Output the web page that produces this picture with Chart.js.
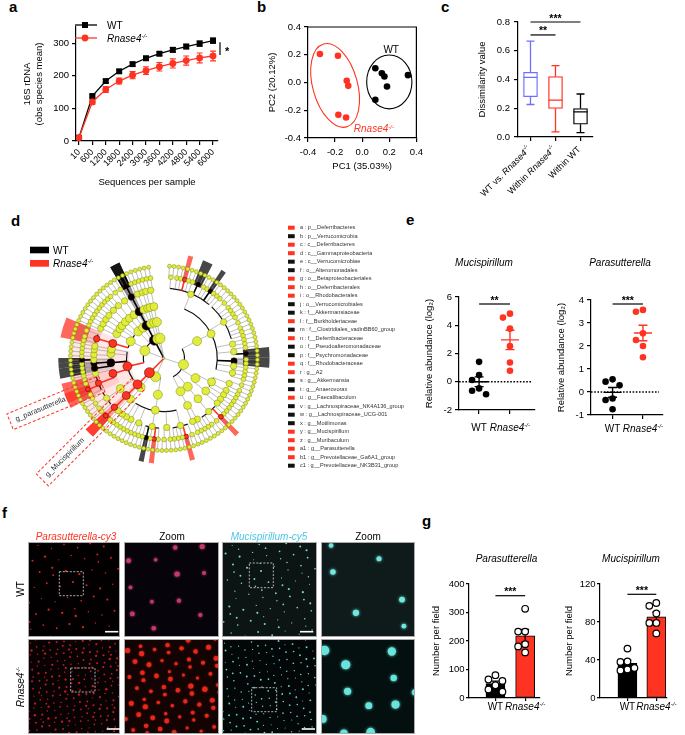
<!DOCTYPE html>
<html>
<head>
<meta charset="utf-8">
<title>Rnase4 microbiota figure</title>
<script src="https://cdn.jsdelivr.net/npm/chart.js@4.4.1/dist/chart.umd.min.js"></script>
<style>
  html, body { margin: 0; padding: 0; background: #fff; }
  #fig { position: relative; width: 685px; height: 735px; overflow: hidden; }
  #fig canvas { position: absolute; }
  .panel { position: absolute; font: bold 15px 'Liberation Sans', Arial, sans-serif; line-height: 15px; }
</style>
</head>
<body>
<div id="fig">
  <div class="panel" style="left:9px;top:-1px">a</div>
  <div class="panel" style="left:257px;top:-1px">b</div>
  <div class="panel" style="left:441px;top:-1px">c</div>
  <div class="panel" style="left:11px;top:213px">d</div>
  <div class="panel" style="left:406px;top:212px">e</div>
  <div class="panel" style="left:2px;top:505px">f</div>
  <div class="panel" style="left:422px;top:513px">g</div>
</div>
<script>
const FONT = "'Liberation Sans', Arial, Helvetica, sans-serif";
const RED = '#ff3322';
const BLUE = '#7070ff';

// ---------- a: rarefaction ----------
const depthLabels = ['10', '600', '1200', '1800', '2400', '3000', '3600', '4200', '4800', '5400', '6000'];
const wtObserved = [10, 138, 184, 214, 236, 254, 268, 280, 290, 299, 308];
const wtObservedSem = [2, 4, 5, 5, 6, 6, 6, 7, 7, 8, 8];
const koObserved = [10, 120, 158, 184, 202, 216, 228, 238, 247, 255, 261];
const koObservedSem = [2, 7, 9, 9, 11, 12, 13, 14, 14, 15, 15];
const observedAxis = [0, 350, 100];   // min, max, step

// ---------- b: PCA ----------
const wtPC1 = [0.097, 0.145, 0.164, 0.183, 0.338, 0.097];
const wtPC2 = [0.103, 0.067, 0.043, -0.029, 0.053, -0.124];
const koPC1 = [-0.312, -0.179, -0.114, -0.103, -0.176, -0.119];
const koPC2 = [0.205, 0.193, 0.012, -0.024, -0.233, -0.252];
const wtEllipse = [0.2, 0.004, 0.167, 0.194, 0];      // centre x, centre y, half x, half y, tilt deg
const koEllipse = [-0.2, -0.021, 0.165, 0.31, -15.5];
const pcaLabelText = ['WT', 'Rnase4-/-'];
const pcaLabelX = [0.214, -0.062];
const pcaLabelY = [0.21, -0.359];
const pcaAxis = [-0.4, 0.4, 0.2];

// ---------- c: dissimilarity ----------
const dissimGroups = ['WT vs. Rnase4-/-', 'Within Rnase4-/-', 'Within WT'];
const dissimMin = [0.226, 0.035, 0.03];
const dissimQ1 = [0.28, 0.198, 0.089];
const dissimMedian = [0.415, 0.257, 0.175];
const dissimQ3 = [0.45, 0.42, 0.198];
const dissimMax = [0.667, 0.497, 0.299];
const dissimSigText = ['**', '***'];
const dissimSigFrom = [0, 0];
const dissimSigTo = [1, 2];
const dissimSigLevel = [0.71, 0.8];
const dissimAxis = [0, 0.8, 0.2];

// ---------- d: LEfSe cladogram ----------
// phylum > class > order > family > [species per genus]
const cladeTree = [
  [ // Firmicutes
    [[[2, 1, 1, 1, 1, 1, 2, 1, 1, 1, 1, 1], [1, 2, 1, 1, 1, 1, 2, 1, 1, 1], [1, 1], [1, 2], [1, 1], [1], [1, 1, 1]]],
    [[[2, 1], [1, 1], [1]], [[1, 1], [1]]],
    [[[1, 1, 2, 1, 1]]],
    [[[1, 1], [1]]]
  ],
  [ // Bacteroidetes
    [[[2, 1, 1, 1, 1], [1, 2], [1, 1, 1, 1, 1], [1, 1, 1], [1, 1], [1]]],
    [[[1, 1], [1]]]
  ],
  [[[[2]]]], // Deferribacteres
  [ // Proteobacteria
    [[[1, 1, 2, 1]], [[1, 2, 1, 1], [1]], [[1, 1], [1], [1]], [[1, 1], [1]], [[1]]],
    [[[1, 1, 2]], [[1, 1], [1]], [[1, 1]], [[1]]],
    [[[1, 1, 1]], [[1]]],
    [[[2, 1]]]
  ],
  [[[[2]]]], // Verrucomicrobia
  [[[[1, 1]], [[1]]], [[[1]]]], // Actinobacteria
  [[[[1, 1]]]] // Tenericutes
];
const biomarkerIds = ['a', 'b', 'c', 'd', 'e', 'f', 'g', 'h', 'i', 'j', 'k', 'l', 'm', 'n', 'o', 'p', 'q', 'r', 's', 't', 'u', 'v', 'w', 'x', 'y', 'z', 'a1', 'b1', 'c1'];
const biomarkerTaxa = ['p__Deferribacteres', 'p__Verrucomicrobia', 'c__Deferribacteres', 'c__Gammaproteobacteria', 'c__Verrucomicrobiae',
  'o__Alteromonadales', 'o__Betaproteobacteriales', 'o__Deferribacterales', 'o__Rhodobacterales', 'o__Verrucomicrobiales',
  'f__Akkermansiaceae', 'f__Burkholderiaceae', 'f__Clostridiales_vadinBB60_group', 'f__Deferribacteraceae', 'f__Pseudoalteromonadaceae',
  'f__Psychromonadaceae', 'f__Rhodobacteraceae', 'g__A2', 'g__Akkermansia', 'g__Anaerovorax', 'g__Faecalibaculum',
  'g__Lachnospiraceae_NK4A136_group', 'g__Lachnospiraceae_UCG-001', 'g__Motilimonas', 'g__Mucispirillum', 'g__Muribaculum',
  'g__Parasutterella', 'g__Prevotellaceae_Ga6A1_group', 'g__Prevotellaceae_NK3B31_group'];
const biomarkerGroup = ['KO', 'WT', 'KO', 'KO', 'WT', 'WT', 'KO', 'KO', 'KO', 'WT', 'WT', 'KO', 'WT', 'KO', 'WT',
  'WT', 'KO', 'KO', 'WT', 'WT', 'KO', 'WT', 'WT', 'WT', 'KO', 'KO', 'KO', 'KO', 'WT'];
const biomarkerClade = ['2', '4', '2,0', '3,0', '4,0', '3,0,2', '3,0,1', '2,0,0', '3,1,0', '4,0,0', '4,0,0,0', '3,0,1,0', '0,0,0,4',
  '2,0,0,0', '3,0,2,0', '3,0,2,1', '3,1,0,0', '0,0,0,0,3', '4,0,0,0,0', '0,0,0,3,1', '0,2,0,0,1', '0,0,0,0,6', '0,0,0,0,9',
  '3,0,2,2,0', '2,0,0,0,0', '1,0,0,0,1', '3,0,1,0,1', '1,0,0,2,1', '1,0,0,2,3'];
const cladeCallouts = [['3,0,1,0,1', 'g_parasutterella', 0.72, 1.78], ['2,0,0,0,0', 'g_Mucispirillum', 0.39, 1.84]];

// ---------- e: relative abundance (log2) ----------
const groupNames = ['WT', 'Rnase4-/-'];
const mucAbundWT = [1.41, 0.47, 0.12, -0.47, -0.64, -0.89];
const mucAbundKO = [4.82, 4.54, 3.76, 2.52, 1.36, 0.78];
const parAbundWT = [0.45, 0.55, 0.29, -0.28, -0.35, -0.75];
const parAbundKO = [3.49, 3.57, 2.55, 2.26, 2.0, 1.51];

// ---------- g: FISH counts ----------
const parCountWT = [60, 65, 80, 45, 22, 30];
const parCountKO = [313, 233, 233, 189, 181, 160];
const mucCountWT = [52, 38, 38.5, 30, 31.5, 29];
const mucCountKO = [97, 100, 89, 79, 79, 68];

Chart.defaults.font.family = FONT;
Chart.defaults.font.size = 9.5;
Chart.defaults.color = '#000';
Chart.defaults.animation = false;
Chart.defaults.responsive = false;
Chart.defaults.events = [];
Chart.defaults.plugins.legend.display = false;
Chart.defaults.plugins.tooltip.enabled = false;

// ---------- helpers ----------
function richParts(str) {
  const parts = [];
  str.split(/(Rnase4-\/-)/).forEach(s => {
    if (s === 'Rnase4-/-') parts.push(['Rnase4', 'i'], ['-/-', 'is']);
    else if (s) parts.push([s, '']);
  });
  return parts;
}

function drawRich(ctx, parts, x, y, o) {
  o = o || {};
  if (typeof parts === 'string') parts = richParts(parts);
  const size = o.size || 9.5;
  const fontOf = st => (st.indexOf('i') >= 0 || o.italic ? 'italic ' : '') + (o.bold ? 'bold ' : '') +
    (st.indexOf('s') >= 0 ? size * 0.62 : size) + 'px ' + FONT;
  ctx.save();
  ctx.translate(x, y);
  if (o.rot) ctx.rotate(o.rot);
  ctx.fillStyle = o.color || '#000';
  ctx.textAlign = 'left';
  ctx.textBaseline = o.baseline || 'alphabetic';
  let w = 0;
  parts.forEach(p => { ctx.font = fontOf(p[1]); w += ctx.measureText(p[0]).width; });
  let cx = o.align === 'center' ? -w / 2 : o.align === 'right' ? -w : 0;
  parts.forEach(p => {
    ctx.font = fontOf(p[1]);
    ctx.fillText(p[0], cx, p[1].indexOf('s') >= 0 ? -size * 0.38 : 0);
    cx += ctx.measureText(p[0]).width;
  });
  ctx.restore();
}

function addCanvas(left, top, w, h) {
  const c = document.createElement('canvas');
  c.width = w; c.height = h;
  c.style.left = left + 'px'; c.style.top = top + 'px';
  c.style.width = w + 'px'; c.style.height = h + 'px';
  document.getElementById('fig').appendChild(c);
  return c;
}

// canvas placement so that the plot area lands on box
function frame(box, yw, xh, pt, pr) {
  const left = Math.round(box.x0 - yw), top = Math.round(box.y0 - pt);
  const right = Math.round(box.x1), bottom = Math.round(box.y1);
  return { left, top, w: right + pr - left, h: bottom + Math.round(xh) - top,
    yw: Math.round(box.x0) - left, xh: Math.round(xh), pt: Math.round(box.y0) - top, pr };
}

function makeChart(fr, cfg) {
  const c = addCanvas(fr.left, fr.top, fr.w, fr.h);
  cfg.options = cfg.options || {};
  cfg.options.layout = { padding: { top: fr.pt, right: fr.pr, bottom: 0, left: 0 } };
  return new Chart(c, cfg);
}

function axis(kind, fr, o) {
  const s = {
    type: o.type || 'linear', position: kind === 'x' ? 'bottom' : 'left',
    min: o.min, max: o.max, offset: !!o.offset,
    afterFit: kind === 'x' ? (sc => { sc.height = fr.xh; }) : (sc => { sc.width = fr.yw; }),
    border: { display: true, color: '#000', width: 1.2 },
    grid: { display: true, offset: false, drawOnChartArea: false, drawTicks: true, tickLength: o.tickLength || 4, color: '#000', lineWidth: 1.2 },
    ticks: { display: o.labels !== false, stepSize: o.step, includeBounds: false, autoSkip: false, padding: o.pad == null ? 3 : o.pad,
      color: '#000', font: { size: o.size || 9.5 }, minRotation: o.rot || 0, maxRotation: o.rot || 0 },
    title: { display: !!o.title, text: o.title, color: '#000', font: { size: 9.5 }, padding: { top: 4, bottom: 4 } }
  };
  if (o.fmt) s.ticks.callback = o.fmt;
  return s;
}

const fmt1 = v => (Math.abs(v) < 1e-9 ? 0 : v).toFixed(1);
const mean = a => a.reduce((s, v) => s + v, 0) / a.length;
const sem = a => { const m = mean(a); return Math.sqrt(a.reduce((s, v) => s + (v - m) * (v - m), 0) / (a.length - 1) / a.length); };

function stars(ctx, text, x1, x2, yy) {
  ctx.save();
  ctx.strokeStyle = '#000'; ctx.lineWidth = 1.2;
  ctx.beginPath(); ctx.moveTo(x1, yy); ctx.lineTo(x2, yy); ctx.stroke();
  ctx.restore();
  drawRich(ctx, [[text, '']], (x1 + x2) / 2, yy - 0.5, { size: 10.5, bold: true, align: 'center' });
}

// ---------- a ----------
const frA = frame({ x0: 76, x1: 218, y0: 27, y1: 141 }, 58.5, 51, 20, 20);
const rarefactionMarks = {
  id: 'rarefactionMarks',
  beforeDatasetsDraw(chart) {
    const { ctx, scales: { x, y } } = chart;
    chart.data.datasets.forEach(ds => {
      ctx.save();
      ctx.strokeStyle = ds.borderColor; ctx.lineWidth = 1.1;
      ctx.beginPath();
      ds.data.forEach((p, i) => {
        const px = x.getPixelForValue(p.x);
        const hi = y.getPixelForValue(p.y + ds.sem[i]), lo = y.getPixelForValue(p.y - ds.sem[i]);
        ctx.moveTo(px, hi); ctx.lineTo(px, lo);
        ctx.moveTo(px - 3, hi); ctx.lineTo(px + 3, hi);
        ctx.moveTo(px - 3, lo); ctx.lineTo(px + 3, lo);
      });
      ctx.stroke();
      ctx.restore();
    });
  },
  afterDraw(chart) {
    const { ctx, chartArea: ca, scales: { y } } = chart;
    [['WT', '#000', 'rect', ca.top - 2], ['Rnase4-/-', RED, 'circle', ca.top + 11]].forEach(([label, col, shape, yy]) => {
      ctx.save();
      ctx.strokeStyle = col; ctx.fillStyle = col; ctx.lineWidth = 1.3;
      ctx.beginPath(); ctx.moveTo(ca.left - 1, yy); ctx.lineTo(ca.left + 21, yy); ctx.stroke();
      if (shape === 'rect') ctx.fillRect(ca.left + 6, yy - 3, 6, 6);
      else { ctx.beginPath(); ctx.arc(ca.left + 9, yy, 3.4, 0, 2 * Math.PI); ctx.fill(); }
      ctx.restore();
      drawRich(ctx, label, ca.left + 31, yy + 3.5, { size: 10 });
    });
    const top = y.getPixelForValue(wtObserved[wtObserved.length - 1] - 5);
    const bot = y.getPixelForValue(koObserved[koObserved.length - 1] + 3);
    ctx.save();
    ctx.strokeStyle = '#000'; ctx.lineWidth = 1.2;
    ctx.beginPath(); ctx.moveTo(ca.right + 2, top); ctx.lineTo(ca.right + 2, bot); ctx.stroke();
    ctx.restore();
    drawRich(ctx, [['*', '']], ca.right + 7, (top + bot) / 2 + 6.5, { size: 11, bold: true });
  }
};
makeChart(frA, {
  type: 'line',
  data: { datasets: [
    { data: koObserved.map((v, i) => ({ x: i, y: v })), sem: koObservedSem, borderColor: RED, backgroundColor: RED,
      pointStyle: 'circle', pointRadius: 3.4, pointBorderWidth: 0, borderWidth: 1.3 },
    { data: wtObserved.map((v, i) => ({ x: i, y: v })), sem: wtObservedSem, borderColor: '#000', backgroundColor: '#000',
      pointStyle: 'rect', pointRadius: 4.2, pointBorderWidth: 0, borderWidth: 1.3 }
  ] },
  options: { scales: {
    x: axis('x', frA, { min: -0.22, max: 10.37, step: 1, rot: 45, size: 9, pad: 2, title: 'Sequences per sample',
      fmt: v => depthLabels[Math.round(v)] || '' }),
    y: axis('y', frA, { min: observedAxis[0], max: observedAxis[1], step: observedAxis[2], title: ['16S rDNA', '(obs species mean)'] })
  } },
  plugins: [rarefactionMarks]
});

// ---------- b ----------
const frB = frame({ x0: 307.7, x1: 420, y0: 26.7, y1: 138.3 }, 44.4, 38, 10, 8);
const pcaMarks = {
  id: 'pcaMarks',
  beforeDatasetsDraw(chart) {
    const { ctx, scales: { x, y } } = chart;
    [[koEllipse, RED], [wtEllipse, '#000']].forEach(([e, col]) => {
      const cx = x.getPixelForValue(e[0]), cy = y.getPixelForValue(e[1]);
      const rx = x.getPixelForValue(e[0] + e[2]) - cx, ry = cy - y.getPixelForValue(e[1] + e[3]);
      ctx.save();
      ctx.strokeStyle = col; ctx.lineWidth = 1.1;
      ctx.beginPath(); ctx.ellipse(cx, cy, rx, ry, e[4] * Math.PI / 180, 0, 2 * Math.PI); ctx.stroke();
      ctx.restore();
    });
  },
  afterDraw(chart) {
    const { ctx, chartArea: ca, scales: { x, y } } = chart;
    ctx.save();
    ctx.strokeStyle = '#000'; ctx.lineWidth = 1.2;
    ctx.beginPath(); ctx.moveTo(ca.left, ca.top); ctx.lineTo(ca.right, ca.top); ctx.lineTo(ca.right, ca.bottom); ctx.stroke();
    ctx.restore();
    pcaLabelText.forEach((t, i) => {
      drawRich(ctx, t, x.getPixelForValue(pcaLabelX[i]), y.getPixelForValue(pcaLabelY[i]),
        { size: 10, align: i === 0 ? 'center' : 'left', color: i === 0 ? '#000' : RED });
    });
  }
};
makeChart(frB, {
  type: 'scatter',
  data: { datasets: [
    { data: koPC1.map((v, i) => ({ x: v, y: koPC2[i] })), backgroundColor: RED, pointRadius: 3.3, pointBorderWidth: 0 },
    { data: wtPC1.map((v, i) => ({ x: v, y: wtPC2[i] })), backgroundColor: '#000', pointRadius: 3.3, pointBorderWidth: 0 }
  ] },
  options: { scales: {
    x: axis('x', frB, { min: pcaAxis[0], max: pcaAxis[1], step: pcaAxis[2], fmt: fmt1, pad: 5, title: 'PC1 (35.03%)' }),
    y: axis('y', frB, { min: pcaAxis[0], max: pcaAxis[1], step: pcaAxis[2], fmt: fmt1, title: 'PC2 (20.12%)' })
  } },
  plugins: [pcaMarks]
});

// ---------- c ----------
const frC = frame({ x0: 518, x1: 593, y0: 22.3, y1: 136.7 }, 44.7, 73, 16, 10);
const boxColours = [BLUE, RED, '#000'];
const boxMarks = {
  id: 'boxMarks',
  afterDatasetsDraw(chart) {
    const { ctx, scales: { x, y } } = chart;
    dissimGroups.forEach((g, i) => {
      const px = x.getPixelForValue(i);
      const yMax = y.getPixelForValue(dissimMax[i]), yMin = y.getPixelForValue(dissimMin[i]);
      ctx.save();
      ctx.strokeStyle = boxColours[i]; ctx.lineWidth = 1.3;
      ctx.beginPath();
      ctx.moveTo(px, y.getPixelForValue(dissimQ3[i])); ctx.lineTo(px, yMax);
      ctx.moveTo(px, y.getPixelForValue(dissimQ1[i])); ctx.lineTo(px, yMin);
      ctx.moveTo(px - 4, yMax); ctx.lineTo(px + 4, yMax);
      ctx.moveTo(px - 4, yMin); ctx.lineTo(px + 4, yMin);
      const med = y.getPixelForValue(dissimMedian[i]);
      ctx.moveTo(px - 7, med); ctx.lineTo(px + 7, med);
      ctx.stroke();
      ctx.restore();
    });
  },
  afterDraw(chart) {
    const { ctx, chartArea: ca, scales: { x, y } } = chart;
    dissimSigText.forEach((t, i) => {
      stars(ctx, t, x.getPixelForValue(dissimSigFrom[i]), x.getPixelForValue(dissimSigTo[i]), y.getPixelForValue(dissimSigLevel[i]));
    });
    dissimGroups.forEach((g, i) => {
      drawRich(ctx, g, x.getPixelForValue(i) - 1, ca.bottom + 11, { size: 9, align: 'right', baseline: 'middle', rot: -Math.PI / 4 });
    });
  }
};
makeChart(frC, {
  type: 'bar',
  data: { labels: dissimGroups, datasets: [{
    data: dissimQ1.map((q, i) => [q, dissimQ3[i]]), backgroundColor: '#fff', borderColor: boxColours,
    borderWidth: 1.3, borderSkipped: false, barThickness: 14
  }] },
  options: { scales: {
    x: axis('x', frC, { type: 'category', offset: true, labels: false }),
    y: axis('y', frC, { min: dissimAxis[0], max: dissimAxis[1], step: dissimAxis[2], fmt: fmt1, pad: 4, title: 'Dissimilarity value' })
  } },
  plugins: [boxMarks]
});

// ---------- d ----------
const CLADE_START = -88, CLADE_SPAN = 350;
const LEVEL_R = [0, 0.22, 0.4, 0.57, 0.75, 0.88, 1.0];
const NODE_SIZE = [1.2, 5, 4.5, 4, 3.2, 2.4, 2];

function buildClade(tree) {
  const nodes = [], byPath = {};
  let leaf = 0;
  function visit(item, level, path) {
    const node = { level, path: path.join(','), kids: [] };
    if (typeof item === 'number') {
      for (let s = 0; s < item; s++) {
        const sp = { level: level + 1, path: node.path + ',s' + s, kids: [], pos: leaf, first: leaf, last: leaf };
        leaf++;
        node.kids.push(sp);
        nodes.push(sp);
      }
    } else {
      item.forEach((child, i) => node.kids.push(visit(child, level + 1, path.concat(i))));
    }
    const k0 = node.kids[0], k1 = node.kids[node.kids.length - 1];
    node.first = k0.first; node.last = k1.last; node.pos = (k0.pos + k1.pos) / 2;
    nodes.push(node);
    byPath[node.path] = node;
    return node;
  }
  visit(tree, 0, []);
  return { nodes, byPath, leaves: leaf };
}
const clade = buildClade(cladeTree);
const leafAngle = pos => (CLADE_START + (pos + 0.5) * CLADE_SPAN / clade.leaves) * Math.PI / 180;
const markColour = {};
biomarkerClade.forEach((p, i) => { markColour[p] = biomarkerGroup[i] === 'WT' ? '#000' : RED; });

function sector(ctx, cx, cy, r0, r1, t0, t1, fill) {
  ctx.beginPath();
  ctx.arc(cx, cy, r1, t0, t1);
  ctx.arc(cx, cy, Math.max(r0, 0), t1, t0, true);
  ctx.closePath();
  ctx.fillStyle = fill;
  ctx.fill();
}

const cladeBox = { left: 0, top: 215, w: 420, h: 285, cx: 162.7, cy: 358.3, r: 96 };
const cladeMarks = {
  id: 'cladeMarks',
  beforeDatasetsDraw(chart) {
    const { ctx, scales: { x, y } } = chart;
    const cx = x.getPixelForValue(0), cy = y.getPixelForValue(0);
    const R = x.getPixelForValue(1) - cx;
    const half = CLADE_SPAN / clade.leaves / 2 * Math.PI / 180;
    const order = biomarkerClade.map((p, i) => i)
      .sort((a, b) => clade.byPath[biomarkerClade[a]].level - clade.byPath[biomarkerClade[b]].level);
    order.forEach(i => {
      const n = clade.byPath[biomarkerClade[i]];
      const rgb = biomarkerGroup[i] === 'WT' ? '0,0,0' : '255,45,30';
      const t0 = leafAngle(n.first) - half, t1 = leafAngle(n.last) + half;
      sector(ctx, cx, cy, LEVEL_R[n.level] * R - 3, R + 1, t0, t1, 'rgba(' + rgb + ',' + (n.level < 4 ? 0.12 : 0.2) + ')');
      if (n.level >= 4) sector(ctx, cx, cy, LEVEL_R[5] * R - 3, R * 1.13, t0, t1, 'rgba(' + rgb + ',0.72)');
    });
    ctx.save();
    clade.nodes.forEach(n => {
      if (!n.kids.length) return;
      const r0 = LEVEL_R[n.level] * R;
      if (n.kids.length > 1 && n.level > 0) {
        ctx.beginPath();
        ctx.strokeStyle = n.level <= 4 ? '#111' : '#777';
        ctx.lineWidth = n.level <= 4 ? 1.2 : 0.6;
        ctx.arc(cx, cy, r0, leafAngle(n.kids[0].pos), leafAngle(n.kids[n.kids.length - 1].pos));
        ctx.stroke();
      }
      n.kids.forEach(k => {
        const t = leafAngle(k.pos), r1 = LEVEL_R[k.level] * R;
        const mark = markColour[k.path];
        ctx.beginPath();
        ctx.strokeStyle = mark || '#8a8a8a';
        ctx.lineWidth = mark ? 1.6 : 0.55;
        ctx.moveTo(cx + r0 * Math.cos(t), cy + r0 * Math.sin(t));
        ctx.lineTo(cx + r1 * Math.cos(t), cy + r1 * Math.sin(t));
        ctx.stroke();
      });
    });
    ctx.restore();
  },
  afterDraw(chart) {
    const { ctx, scales: { x, y } } = chart;
    const cx = x.getPixelForValue(0), cy = y.getPixelForValue(0);
    const R = x.getPixelForValue(1) - cx;
    const ox = cladeBox.left, oy = cladeBox.top;
    // callouts
    cladeCallouts.forEach(([path, text, rIn, rOut]) => {
      const t = leafAngle(clade.byPath[path].pos);
      ctx.save();
      ctx.translate(cx, cy); ctx.rotate(t);
      ctx.setLineDash([3, 2]); ctx.strokeStyle = RED; ctx.lineWidth = 1;
      ctx.strokeRect(rIn * R, -8.5, (rOut - rIn) * R, 17);
      ctx.rotate(Math.PI);
      ctx.fillStyle = '#333'; ctx.font = '7.5px ' + FONT; ctx.textBaseline = 'middle'; ctx.textAlign = 'left';
      ctx.fillText(text, -rOut * R + 6, 0);
      ctx.restore();
    });
    // group key
    ctx.fillStyle = '#000'; ctx.fillRect(30 - ox, 246.7 - oy, 19, 6.6);
    ctx.fillStyle = RED; ctx.fillRect(30 - ox, 260 - oy, 19, 6.7);
    drawRich(ctx, 'WT', 53 - ox, 253.8 - oy, { size: 10 });
    drawRich(ctx, 'Rnase4-/-', 53 - ox, 267.2 - oy, { size: 10 });
    // biomarker key
    biomarkerIds.forEach((id, i) => {
      const yy = 227.7 + i * 8.5 - oy;
      ctx.fillStyle = biomarkerGroup[i] === 'WT' ? '#111' : RED;
      ctx.fillRect(288 - ox, yy - 2, 6.7, 4);
      ctx.fillStyle = '#333'; ctx.font = '5.6px ' + FONT; ctx.textBaseline = 'middle'; ctx.textAlign = 'left';
      ctx.fillText(id + ' : ' + biomarkerTaxa[i], 300 - ox, yy);
    });
  }
};
(function () {
  const c = addCanvas(cladeBox.left, cladeBox.top, cladeBox.w, cladeBox.h);
  const ccx = cladeBox.cx - cladeBox.left, ccy = cladeBox.cy - cladeBox.top, r = cladeBox.r;
  const pts = clade.nodes.map(n => {
    const t = leafAngle(n.pos), rr = LEVEL_R[n.level];
    return { x: rr * Math.cos(t), y: -rr * Math.sin(t) };
  });
  const fills = clade.nodes.map(n => markColour[n.path] || '#e1ec3c');
  new Chart(c, {
    type: 'scatter',
    data: { datasets: [{ data: pts, pointRadius: clade.nodes.map(n => NODE_SIZE[n.level]), backgroundColor: fills,
      borderColor: clade.nodes.map(n => markColour[n.path] ? '#400' : '#7c8a12'), borderWidth: 0.5, clip: false }] },
    options: {
      layout: { padding: 0 },
      scales: {
        x: { type: 'linear', display: false, min: -ccx / r, max: (cladeBox.w - ccx) / r },
        y: { type: 'linear', display: false, min: (ccy - cladeBox.h) / r, max: ccy / r }
      }
    },
    plugins: [cladeMarks]
  });
})();

// ---------- e & g ----------
function swarm(values, pxPerY, diam) {
  const order = values.map((v, i) => i).sort((a, b) => values[b] - values[a]);
  const placed = [], off = values.map(() => 0);
  order.forEach(i => {
    const py = values[i] * pxPerY;
    for (const c of [0, -1, 1, -2, 2]) {
      const px = c * diam;
      if (placed.every(p => Math.hypot(p[0] - px, p[1] - py) >= diam * 0.98)) { off[i] = px; placed.push([px, py]); break; }
    }
  });
  return off;
}

function groupChart(o) {
  const fr = frame(o.box, o.yw, o.xh, o.pt, o.pr);
  const pxY = (Math.round(o.box.y1) - Math.round(o.box.y0)) / (o.yr[1] - o.yr[0]);
  const pxX = (Math.round(o.box.x1) - Math.round(o.box.x0)) / (o.xr[1] - o.xr[0]);
  const sets = [o.wt, o.ko];
  const colours = ['#000', RED];
  const datasets = sets.map((vals, g) => {
    const off = swarm(vals, pxY, 7);
    return {
      type: 'scatter', order: 0,
      data: vals.map((v, i) => ({ x: g + off[i] / pxX, y: v })),
      pointRadius: 3.3, backgroundColor: o.bars ? '#fff' : colours[g],
      borderColor: '#000', pointBorderWidth: o.bars ? 1.2 : 0, borderWidth: o.bars ? 1.2 : 0
    };
  });
  if (o.bars) {
    datasets.push({ type: 'bar', order: 1, data: sets.map((v, g) => ({ x: g, y: mean(v) })), backgroundColor: colours,
      borderColor: '#000', borderWidth: 1, borderSkipped: false, barThickness: 19 });
  }
  const marks = {
    id: 'groupMarks',
    beforeDatasetsDraw(chart) {
      if (!o.zero) return;
      const { ctx, chartArea: ca, scales: { y } } = chart;
      const py = y.getPixelForValue(0);
      ctx.save();
      ctx.setLineDash([1.6, 1.6]); ctx.lineWidth = 1.5; ctx.strokeStyle = '#000';
      ctx.beginPath(); ctx.moveTo(ca.left, py); ctx.lineTo(ca.right - 4, py); ctx.stroke();
      ctx.restore();
    },
    afterDatasetDraw(chart, args) {
      if (!o.bars || args.meta.type !== 'bar') return;
      const { ctx, scales: { x, y } } = chart;
      sets.forEach((v, g) => {
        const px = x.getPixelForValue(g), m = mean(v), s = sem(v);
        const hi = y.getPixelForValue(m + s), lo = y.getPixelForValue(m - s);
        ctx.save();
        ctx.strokeStyle = '#000'; ctx.lineWidth = 1.2;
        ctx.beginPath();
        ctx.moveTo(px, hi); ctx.lineTo(px, lo);
        ctx.moveTo(px - 4, hi); ctx.lineTo(px + 4, hi);
        ctx.moveTo(px - 4, lo); ctx.lineTo(px + 4, lo);
        ctx.stroke();
        ctx.restore();
      });
    },
    afterDatasetsDraw(chart) {
      if (o.bars) return;
      const { ctx, scales: { x, y } } = chart;
      sets.forEach((v, g) => {
        const px = x.getPixelForValue(g), m = mean(v), s = sem(v);
        const pm = y.getPixelForValue(m), hi = y.getPixelForValue(m + s), lo = y.getPixelForValue(m - s);
        ctx.save();
        ctx.strokeStyle = colours[g]; ctx.lineWidth = 1.4;
        ctx.beginPath();
        ctx.moveTo(px - 9, pm); ctx.lineTo(px + 9, pm);
        ctx.moveTo(px, hi); ctx.lineTo(px, lo);
        ctx.moveTo(px - 4.5, hi); ctx.lineTo(px + 4.5, hi);
        ctx.moveTo(px - 4.5, lo); ctx.lineTo(px + 4.5, lo);
        ctx.stroke();
        ctx.restore();
      });
    },
    afterDraw(chart) {
      const { ctx, chartArea: ca, scales: { x } } = chart;
      drawRich(ctx, [[o.title, 'i']], (ca.left + ca.right) / 2 + o.titleDx, o.titleY - fr.top, { size: 10, align: 'center' });
      stars(ctx, o.sig, x.getPixelForValue(0), x.getPixelForValue(1), o.sigY - fr.top);
      groupNames.forEach((name, g) => {
        drawRich(ctx, name, x.getPixelForValue(g), o.labelY - fr.top, { size: 10, align: 'center' });
      });
    }
  };
  makeChart(fr, {
    type: o.bars ? 'bar' : 'scatter',
    data: { datasets },
    options: { scales: {
      x: axis('x', fr, { min: o.xr[0], max: o.xr[1], step: 1, labels: false, tickLength: o.tick || 4 }),
      y: axis('y', fr, { min: o.yr[0], max: o.yr[1], step: o.yr[2], title: o.yTitle, tickLength: o.tick || 4, pad: o.pad })
    } },
    plugins: [marks]
  });
}

groupChart({ box: { x0: 459.3, x1: 535, y0: 296.7, y1: 410 }, yw: 39.7, xh: 30, pt: 41.7, pr: 8,
  xr: [-0.65, 1.81], yr: [-2, 6, 2], wt: mucAbundWT, ko: mucAbundKO, zero: true,
  title: 'Mucispirillum', titleDx: -13, titleY: 266, sig: '**', sigY: 304, labelY: 430.5, yTitle: 'Relative abundance (log\u2082)' });
groupChart({ box: { x0: 590.7, x1: 662.7, y0: 300, y1: 415 }, yw: 38.7, xh: 27, pt: 45, pr: 10,
  xr: [-0.71, 1.66], yr: [-1, 4, 1], wt: parAbundWT, ko: parAbundKO, zero: true,
  title: 'Parasutterella', titleDx: -7, titleY: 266, sig: '***', sigY: 304, labelY: 432, yTitle: 'Relative abundance (log\u2082)' });
groupChart({ box: { x0: 469.3, x1: 540, y0: 584, y1: 698.3 }, yw: 42.3, xh: 22, pt: 34, pr: 8, bars: true, tick: 3, pad: 1.5,
  xr: [-0.89, 1.5], yr: [0, 400, 100], wt: parCountWT, ko: parCountKO,
  title: 'Parasutterella', titleDx: 2, titleY: 562, sig: '***', sigY: 595.7, labelY: 710, yTitle: 'Number per field' });
groupChart({ box: { x0: 600, x1: 666.7, y0: 584, y1: 698.3 }, yw: 39.7, xh: 22, pt: 34, pr: 10, bars: true, tick: 3, pad: 1.5,
  xr: [-0.95, 1.37], yr: [0, 120, 40], wt: mucCountWT, ko: mucCountKO,
  title: 'Mucispirillum', titleDx: -2.5, titleY: 562, sig: '***', sigY: 594.3, labelY: 710, yTitle: 'Number per field' });

// ---------- f: FISH images (stand-in tiles) ----------
(function () {
  const ox = 0, oy = 525;
  const ctx = addCanvas(ox, oy, 420, 210).getContext('2d');
  // x, y, w, h, background, spots, colour, r min, r max, glow
  const tiles = [
    [28, 542, 92, 95, '#020000', 55, '#d8241c', 0.6, 1.2, 0],
    [124, 542, 95, 95, '#06030a', 12, '#c03c64', 1.8, 2.8, 3],
    [222, 542, 95, 95, '#0c1414', 80, '#6fd8d4', 0.5, 1.1, 0],
    [321, 542, 94, 95, '#0f1b1b', 6, '#70e8e0', 2.2, 3.2, 3],
    [28, 639, 92, 95, '#080204', 220, '#c01e1a', 0.6, 1.2, 0],
    [124, 639, 95, 95, '#140303', 65, '#e82818', 1.4, 2.6, 2],
    [222, 639, 95, 95, '#030707', 150, '#62d6d0', 0.5, 1.0, 0],
    [321, 639, 94, 95, '#041010', 11, '#68e4dc', 3, 4.8, 3]
  ];
  tiles.forEach((t, k) => {
    const [x, y, w, h, bg, n, col, r0, r1, glow] = t;
    const X = x - ox, Y = y - oy;
    ctx.save();
    ctx.fillStyle = bg; ctx.fillRect(X, Y, w, h);
    ctx.beginPath(); ctx.rect(X, Y, w, h); ctx.clip();
    ctx.fillStyle = col; ctx.shadowColor = col; ctx.shadowBlur = glow;
    for (let i = 1; i <= n; i++) {
      const u = (0.5 + (i + 7 * k) * 0.7548776662) % 1;
      const v = (0.5 + (i + 7 * k) * 0.5698402910) % 1;
      const s = (0.5 + (i + 7 * k) * 0.6180339887) % 1;
      ctx.beginPath(); ctx.arc(X + u * w, Y + v * h, r0 + s * (r1 - r0), 0, 2 * Math.PI); ctx.fill();
    }
    ctx.restore();
    ctx.strokeStyle = '#aaa'; ctx.lineWidth = 1;
    ctx.strokeRect(X + 0.5, Y + 0.5, w - 1, h - 1);
  });
  ctx.save();
  ctx.strokeStyle = '#ddd'; ctx.lineWidth = 0.8; ctx.setLineDash([2, 1.5]);
  [[59.3, 571.7, 24, 24], [249.3, 563, 24, 24.7], [70.7, 668, 24.3, 24], [251.7, 687.7, 25, 24]].forEach(b => {
    ctx.strokeRect(b[0] - ox, b[1] - oy, b[2], b[3]);
  });
  ctx.restore();
  ctx.save();
  ctx.strokeStyle = '#fff'; ctx.lineWidth = 1.6;
  [[105, 631.7], [300, 631.7], [106.7, 729], [301.7, 729]].forEach(b => {
    ctx.beginPath(); ctx.moveTo(b[0] - ox, b[1] - oy); ctx.lineTo(b[0] + 13.3 - ox, b[1] - oy); ctx.stroke();
  });
  ctx.restore();
  drawRich(ctx, 'Parasutterella-cy3', 76 - ox, 540 - oy, { size: 10, italic: true, align: 'center', color: RED });
  drawRich(ctx, 'Zoom', 172 - ox, 540 - oy, { size: 10, align: 'center' });
  drawRich(ctx, 'Mucispirillum-cy5', 269 - ox, 540 - oy, { size: 10, italic: true, align: 'center', color: '#4cc6e2' });
  drawRich(ctx, 'Zoom', 368 - ox, 540 - oy, { size: 10, align: 'center' });
  drawRich(ctx, 'WT', 23.5 - ox, 589 - oy, { size: 10, align: 'center', rot: -Math.PI / 2 });
  drawRich(ctx, 'Rnase4-/-', 23.5 - ox, 687 - oy, { size: 10, align: 'center', rot: -Math.PI / 2 });
})();
</script>
</body>
</html>
